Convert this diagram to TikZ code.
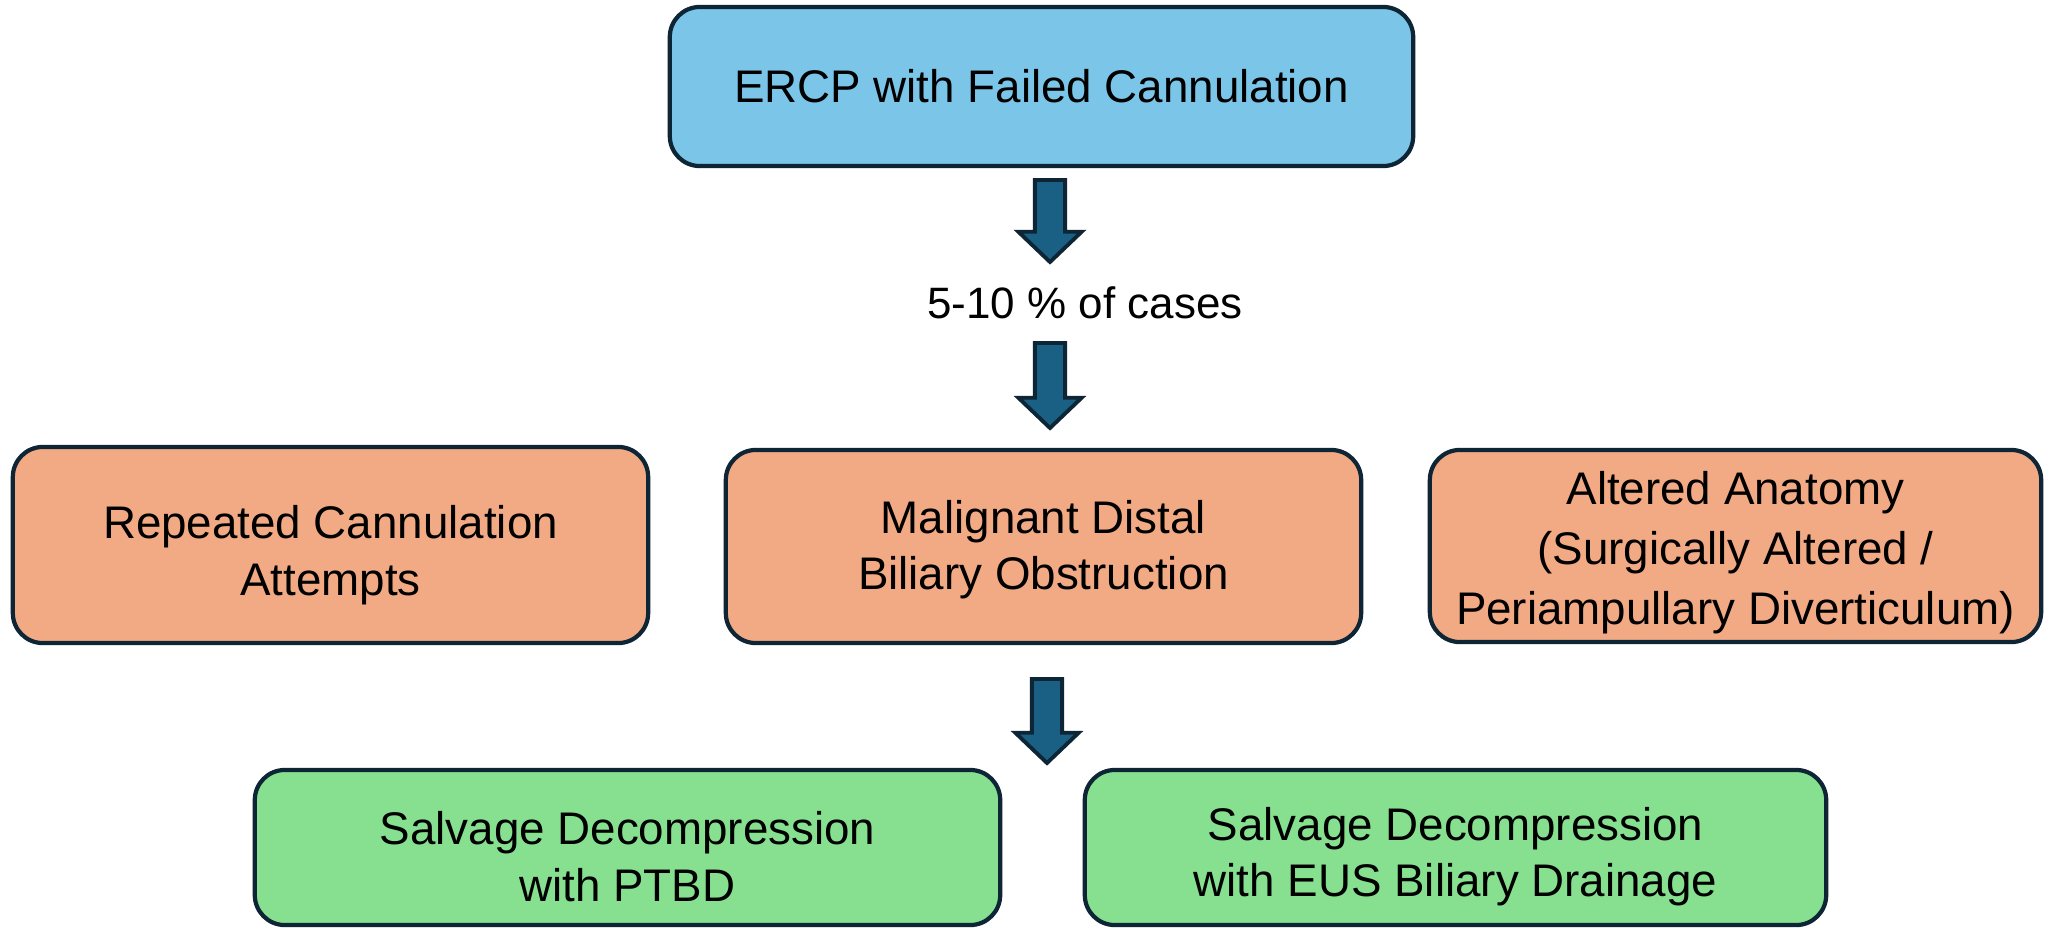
\documentclass[tikz,border=0pt]{standalone}
\usepackage{fontspec}
\setmainfont{Liberation Sans}
\usetikzlibrary{calc}

\definecolor{edge}{HTML}{0D2535}
\definecolor{sky}{HTML}{7AC5E8}
\definecolor{peach}{HTML}{F2AA85}
\definecolor{mint}{HTML}{86E08F}
\definecolor{arrowblue}{HTML}{1A6085}

% Thick downward block arrow from a top coordinate to a tip coordinate
\newcommand\blockdown[2]{%
  \draw[blockarrow] let \p1=(#1), \p2=(#2) in
    (\x1-4.3pt,\y1) -- (\x1+4.3pt,\y1) -- (\x1+4.3pt,\y2+8.6pt)
    -- (\x1+9pt,\y2+8.6pt) -- (\x1,\y2) -- (\x1-9pt,\y2+8.6pt)
    -- (\x1-4.3pt,\y2+8.6pt) -- cycle;}

% invisible strut on a first line: lowers a centred text block a little
\newcommand\lowerby[1]{\rule{0pt}{#1}}

\begin{document}
\begin{tikzpicture}[x=0.01cm,y=-0.01cm,
  box/.style={draw=edge, line width=1.2pt, rounded corners=0.3cm,
    align=center, inner sep=0pt, font=\fontsize{13}{16}\selectfont},
  topbox/.style={box, fill=sky},
  causebox/.style={box, fill=peach},
  outbox/.style={box, fill=mint},
  blockarrow/.style={draw=edge, fill=arrowblue, line width=1.1pt, line join=miter}]

\useasboundingbox (0,0) rectangle (2045,927);

% start of the pathway
\node[topbox, minimum width=7.43cm, minimum height=1.59cm] (ercp) at (1041.5,86.5)
  {ERCP with Failed Cannulation};

% frequency label
\node[anchor=base, inner sep=0pt, font=\fontsize{12.5}{15}\selectfont] (pct) at (1085,318)
  {5-10 \% of cases};

% causes
\node[causebox, minimum width=6.35cm, minimum height=1.96cm] (repeat) at (330.5,545)
  {\lowerby{15.2pt}Repeated Cannulation\\Attempts};
\node[causebox, minimum width=6.35cm, minimum height=1.93cm] (malig) at (1043.5,546.5)
  {\lowerby{11.2pt}Malignant Distal\\Biliary Obstruction};
\node[causebox, minimum width=6.11cm, minimum height=1.92cm,
  font=\fontsize{13}{17}\selectfont] (anat) at (1735.5,546)
  {\lowerby{13.2pt}Altered Anatomy\\(Surgically Altered /\\Periampullary Diverticulum)};

% salvage options
\node[outbox, minimum width=7.45cm, minimum height=1.55cm] (ptbd) at (627.5,847.5)
  {\lowerby{14.6pt}Salvage Decompression\\with PTBD};
\node[outbox, minimum width=7.41cm, minimum height=1.55cm] (eus) at (1455.5,847.5)
  {\lowerby{14.6pt}Salvage Decompression\\with EUS Biliary Drainage};

% arrow end points
\coordinate (a1s) at (1050,180);
\coordinate (a1e) at (1050,262);
\coordinate (a2s) at (1050,343);
\coordinate (a2e) at (1050,428);
\coordinate (a3s) at (1047,679);
\coordinate (a3e) at (1047,763);

\blockdown{a1s}{a1e}
\blockdown{a2s}{a2e}
\blockdown{a3s}{a3e}

\end{tikzpicture}
\end{document}
